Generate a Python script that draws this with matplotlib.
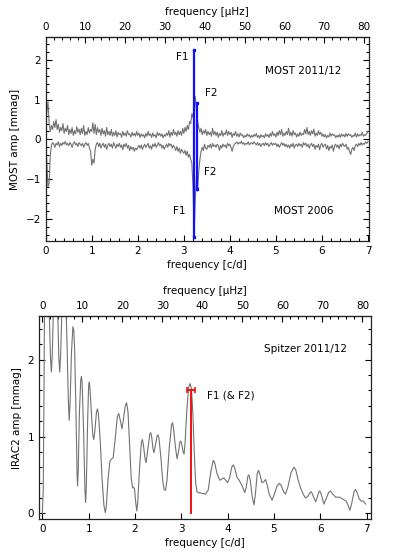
"""
MOST / Spitzer amplitude spectra, two panels with c/d and muHz axes
"""
import numpy as np
import matplotlib
matplotlib.use("Agg")
import matplotlib.pyplot as plt
from matplotlib.ticker import MultipleLocator, FixedLocator

plt.rcParams['font.family'] = ['DejaVu Sans']
plt.rcParams['font.size'] = 7.5

# frequency grid of the MOST spectra [c/d]
most_freq = np.round(np.arange(0, 7.001, 0.025), 3)
# MOST 2011/12 amplitude [mmag], one row per 0.5 c/d
most_2011 = [
    0.30, 0.70, 0.95, 0.40, 0.20, 0.35, 0.25, 0.45, 0.30, 0.50, 0.25, 0.38, 0.18, 0.30, 0.22, 0.40, 0.15, 0.28, 0.20, 0.35,
    0.12, 0.25, 0.15, 0.30, 0.10, 0.22, 0.14, 0.32, 0.18, 0.26, 0.12, 0.28, 0.15, 0.35, 0.10, 0.20, 0.12, 0.30, 0.16, 0.25,
    0.20, 0.42, 0.15, 0.38, 0.12, 0.30, 0.18, 0.25, 0.10, 0.28, 0.14, 0.22, 0.08, 0.30, 0.12, 0.20, 0.10, 0.25, 0.08, 0.18,
    0.10, 0.22, 0.06, 0.18, 0.12, 0.15, 0.05, 0.20, 0.10, 0.16, 0.08, 0.22, 0.12, 0.14, 0.06, 0.18, 0.10, 0.15, 0.08, 0.20,
    0.10, 0.16, 0.05, 0.14, 0.08, 0.12, 0.04, 0.15, 0.08, 0.20, 0.10, 0.14, 0.05, 0.16, 0.08, 0.12, 0.04, 0.18, 0.10, 0.15,
    0.08, 0.14, 0.04, 0.12, 0.08, 0.16, 0.10, 0.22, 0.06, 0.18, 0.10, 0.25, 0.12, 0.18, 0.08, 0.22, 0.12, 0.20, 0.10, 0.28,
    0.15, 0.30, 0.20, 0.35, 0.25, 0.45, 0.40, 0.65, 0.55, 0.85, 1.08, 0.70, 0.45, 0.30, 0.18, 0.28, 0.12, 0.22, 0.15, 0.25,
    0.10, 0.20, 0.12, 0.18, 0.08, 0.28, 0.12, 0.20, 0.10, 0.18, 0.05, 0.15, 0.10, 0.22, 0.08, 0.16, 0.12, 0.24, 0.10, 0.20,
    0.12, 0.18, 0.05, 0.15, 0.10, 0.20, 0.08, 0.14, 0.06, 0.16, 0.10, 0.12, 0.04, 0.10, 0.06, 0.14, 0.08, 0.12, 0.04, 0.10,
    0.06, 0.12, 0.08, 0.15, 0.05, 0.10, 0.03, 0.12, 0.06, 0.10, 0.04, 0.14, 0.08, 0.12, 0.05, 0.15, 0.08, 0.20, 0.10, 0.14,
    0.06, 0.18, 0.10, 0.22, 0.12, 0.25, 0.08, 0.16, 0.10, 0.20, 0.12, 0.28, 0.10, 0.18, 0.08, 0.22, 0.12, 0.16, 0.06, 0.14,
    0.08, 0.18, 0.10, 0.15, 0.12, 0.25, 0.14, 0.30, 0.12, 0.20, 0.10, 0.22, 0.14, 0.26, 0.08, 0.16, 0.10, 0.22, 0.12, 0.18,
    0.08, 0.14, 0.06, 0.12, 0.04, 0.10, 0.06, 0.16, 0.08, 0.14, 0.10, 0.12, 0.04, 0.10, 0.06, 0.12, 0.05, 0.14, 0.08, 0.12,
    0.06, 0.15, 0.08, 0.14, 0.10, 0.12, 0.05, 0.10, 0.08, 0.16, 0.06, 0.14, 0.08, 0.12, 0.10, 0.18, 0.08, 0.12, 0.10, 0.15,
    0.20]
# MOST 2006 amplitude, plotted mirrored [mmag]
most_2006 = [
    0.00, -0.60, -1.20, -1.10, -0.40, -0.15, -0.08, -0.12, -0.20, -0.10, -0.14, -0.06, -0.18, -0.10, -0.15, -0.08, -0.12, -0.05, -0.14, -0.10,
    -0.16, -0.08, -0.12, -0.20, -0.10, -0.06, -0.14, -0.10, -0.18, -0.08, -0.12, -0.16, -0.10, -0.20, -0.12, -0.08, -0.15, -0.10, -0.22, -0.30,
    -0.65, -0.50, -0.60, -0.25, -0.12, -0.08, -0.18, -0.10, -0.22, -0.14, -0.10, -0.20, -0.12, -0.25, -0.15, -0.10, -0.18, -0.12, -0.22, -0.08,
    -0.15, -0.22, -0.12, -0.18, -0.10, -0.20, -0.14, -0.26, -0.12, -0.18, -0.10, -0.22, -0.15, -0.28, -0.18, -0.25, -0.20, -0.30, -0.22, -0.26,
    -0.20, -0.15, -0.22, -0.14, -0.25, -0.18, -0.12, -0.20, -0.15, -0.10, -0.22, -0.16, -0.25, -0.12, -0.18, -0.10, -0.20, -0.14, -0.08, -0.16,
    -0.12, -0.22, -0.15, -0.25, -0.18, -0.12, -0.20, -0.10, -0.16, -0.12, -0.22, -0.15, -0.20, -0.28, -0.18, -0.30, -0.22, -0.35, -0.25, -0.30,
    -0.35, -0.28, -0.40, -0.30, -0.45, -0.38, -0.50, -0.60, -1.20, -2.40, -1.50, -0.90, -1.30, -0.80, -0.50, -0.30, -0.20, -0.28, -0.12, -0.22,
    -0.25, -0.15, -0.20, -0.12, -0.22, -0.10, -0.18, -0.14, -0.20, -0.12, -0.16, -0.28, -0.15, -0.22, -0.12, -0.18, -0.14, -0.22, -0.10, -0.16,
    -0.12, -0.20, -0.30, -0.18, -0.12, -0.10, -0.06, -0.12, -0.08, -0.10, -0.05, -0.12, -0.08, -0.14, -0.10, -0.12, -0.06, -0.14, -0.10, -0.08,
    -0.12, -0.06, -0.10, -0.14, -0.08, -0.15, -0.10, -0.18, -0.12, -0.10, -0.16, -0.08, -0.14, -0.10, -0.18, -0.12, -0.08, -0.15, -0.10, -0.13,
    -0.10, -0.18, -0.12, -0.20, -0.14, -0.08, -0.15, -0.10, -0.18, -0.12, -0.20, -0.14, -0.22, -0.12, -0.18, -0.10, -0.22, -0.14, -0.12, -0.18,
    -0.10, -0.16, -0.12, -0.20, -0.08, -0.14, -0.10, -0.18, -0.12, -0.22, -0.14, -0.10, -0.18, -0.12, -0.25, -0.15, -0.20, -0.12, -0.26, -0.14,
    -0.10, -0.20, -0.14, -0.12, -0.24, -0.15, -0.28, -0.18, -0.22, -0.14, -0.30, -0.16, -0.12, -0.20, -0.14, -0.24, -0.12, -0.18, -0.10, -0.16,
    -0.18, -0.12, -0.25, -0.20, -0.30, -0.38, -0.25, -0.20, -0.28, -0.16, -0.12, -0.18, -0.10, -0.15, -0.08, -0.14, -0.10, -0.12, -0.06, -0.10,
    -0.05]
# fitted frequencies: (freq, amp 2011/12, amp 2006)
f1 = (3.225, 2.26, -2.47)
f2 = (3.28, 0.92, -1.26)

# Spitzer IRAC2 spectrum
spitzer_freq = [0.00, 0.02, 0.035, 0.05, 0.10, 0.15, 0.175, 0.195, 0.215, 0.24,
                0.28, 0.33, 0.355, 0.375, 0.395, 0.43, 0.48, 0.53, 0.56, 0.58,
                0.60, 0.63, 0.66, 0.68, 0.70, 0.73, 0.75, 0.76, 0.775, 0.80,
                0.83, 0.845, 0.86, 0.89, 0.92, 0.935, 0.95, 0.98, 1.00, 1.015,
                1.03, 1.06, 1.09, 1.11, 1.13, 1.17, 1.19, 1.21, 1.25, 1.29,
                1.33, 1.36, 1.38, 1.42, 1.46, 1.50, 1.53, 1.57, 1.62, 1.65,
                1.68, 1.72, 1.75, 1.79, 1.82, 1.85, 1.88, 1.92, 1.95, 1.97,
                1.99, 2.02, 2.04, 2.06, 2.10, 2.14, 2.16, 2.18, 2.22, 2.24,
                2.27, 2.32, 2.34, 2.36, 2.39, 2.41, 2.44, 2.48, 2.50, 2.52,
                2.56, 2.60, 2.63, 2.66, 2.69, 2.74, 2.79, 2.81, 2.83, 2.87,
                2.91, 2.94, 2.97, 2.99, 3.01, 3.04, 3.06, 3.08, 3.12, 3.16,
                3.19, 3.22, 3.25, 3.28, 3.31, 3.34, 3.37, 3.45, 3.52, 3.58,
                3.64, 3.69, 3.72, 3.77, 3.83, 3.88, 3.92, 3.96, 4.00, 4.04,
                4.09, 4.12, 4.15, 4.20, 4.25, 4.32, 4.37, 4.40, 4.44, 4.46,
                4.49, 4.53, 4.57, 4.60, 4.64, 4.67, 4.70, 4.74, 4.78, 4.82,
                4.85, 4.90, 4.96, 5.01, 5.07, 5.12, 5.16, 5.21, 5.25, 5.30,
                5.37, 5.43, 5.47, 5.52, 5.58, 5.64, 5.68, 5.73, 5.78, 5.81,
                5.85, 5.90, 5.93, 5.97, 5.99, 6.02, 6.08, 6.12, 6.18, 6.22,
                6.27, 6.33, 6.42, 6.50, 6.56, 6.61, 6.64, 6.68, 6.73, 6.76,
                6.79, 6.84, 6.88, 6.93, 6.98]
spitzer_amp = [0.00, 0.30, 1.50, 3.00, 3.60, 2.60, 2.05, 1.84, 2.05, 2.70,
               3.40, 2.70, 2.05, 1.84, 2.05, 2.80, 3.30, 2.30, 1.50, 1.21,
               1.45, 2.10, 2.43, 2.38, 2.10, 1.20, 0.50, 0.36, 0.55, 1.30,
               1.74, 1.78, 1.70, 1.10, 0.30, 0.14, 0.35, 1.25, 1.66, 1.71,
               1.62, 1.30, 1.02, 0.96, 1.05, 1.32, 1.36, 1.30, 0.95, 0.45,
               0.10, 0.01, 0.08, 0.45, 0.68, 0.71, 0.73, 0.95, 1.26, 1.30,
               1.22, 1.10, 1.22, 1.40, 1.44, 1.32, 0.95, 0.45, 0.33, 0.34,
               0.32, 0.12, 0.03, 0.15, 0.60, 0.93, 0.96, 0.90, 0.70, 0.66,
               0.80, 1.03, 1.05, 1.00, 0.84, 0.79, 0.88, 1.01, 1.02, 0.97,
               0.72, 0.42, 0.31, 0.30, 0.42, 0.85, 1.15, 1.18, 1.12, 0.88,
               0.71, 0.80, 0.93, 0.94, 0.90, 0.80, 0.77, 0.90, 1.35, 1.64,
               1.69, 1.62, 1.30, 0.80, 0.40, 0.28, 0.27, 0.26, 0.25, 0.30,
               0.55, 0.69, 0.66, 0.52, 0.43, 0.45, 0.46, 0.43, 0.40, 0.46,
               0.60, 0.63, 0.60, 0.47, 0.43, 0.35, 0.27, 0.33, 0.49, 0.50,
               0.43, 0.22, 0.11, 0.25, 0.52, 0.56, 0.50, 0.40, 0.41, 0.44,
               0.38, 0.25, 0.17, 0.25, 0.36, 0.39, 0.36, 0.28, 0.25, 0.34,
               0.53, 0.60, 0.57, 0.44, 0.32, 0.24, 0.20, 0.22, 0.27, 0.28,
               0.22, 0.15, 0.20, 0.28, 0.29, 0.25, 0.12, 0.18, 0.27, 0.29,
               0.25, 0.21, 0.21, 0.18, 0.16, 0.09, 0.04, 0.13, 0.28, 0.31,
               0.28, 0.19, 0.16, 0.16, 0.12]
# F1 in Spitzer data: frequency, amplitude, frequency error
spitzer_f1 = (3.205, 1.605, 0.09)

uhz_major = np.arange(0, 81, 10)
uhz_minor = np.arange(0, 82, 2)

GRAY = '#727272'


def cd_to_uhz(f):
    return f / 0.0864


def uhz_to_cd(f):
    return f * 0.0864


def style_axes(ax, x_minor):
    ax.tick_params(which='both', direction='in', right=True, top=False,
                   width=0.8, labelsize=7.5)
    ax.tick_params(which='major', length=4)
    ax.tick_params(which='minor', length=2)
    ax.xaxis.set_major_locator(MultipleLocator(1))
    if x_minor:
        ax.xaxis.set_minor_locator(MultipleLocator(0.2))
    ax.yaxis.set_major_locator(MultipleLocator(1))
    ax.yaxis.set_minor_locator(MultipleLocator(0.2))
    ax.set_xlabel('frequency [c/d]', labelpad=3)
    for s in ax.spines.values():
        s.set_linewidth(0.9)
        s.set_color('#222222')
    sec = ax.secondary_xaxis('top', functions=(cd_to_uhz, uhz_to_cd))
    sec.xaxis.set_major_locator(FixedLocator(uhz_major))
    sec.xaxis.set_minor_locator(FixedLocator(uhz_minor))
    sec.tick_params(which='both', direction='in', width=0.8, labelsize=7.5)
    sec.tick_params(which='major', length=4)
    sec.tick_params(which='minor', length=2)
    sec.set_xlabel('frequency [\u03bcHz]', labelpad=5)
    return sec


fig = plt.figure(figsize=(3.99, 5.57), dpi=100)

# upper panel: MOST
ax1 = fig.add_axes([0.1145, 0.5673, 0.810, 0.3663])
ax1.plot(most_freq, most_2011, color=GRAY, lw=0.8)
ax1.plot(most_freq, most_2006, color=GRAY, lw=0.8)
for f, a_new, a_old in (f1, f2):
    ax1.plot([f, f], [0, a_new], color='#1010ff', lw=1.6, solid_capstyle='butt')
    ax1.plot([f, f], [0, a_old], color='#1010ff', lw=1.6, solid_capstyle='butt')
    ax1.plot([f, f], [a_new, a_old], 's', color='#1010ff', ms=1.8)
ax1.set_xlim(0, 7.02)
ax1.set_ylim(-2.56, 2.58)
ax1.set_ylabel('MOST amp [mmag]', labelpad=4)
style_axes(ax1, True)
ax1.text(3.1, 2.07, 'F1', ha='right', va='center')
ax1.text(3.46, 1.18, 'F2', ha='left', va='center')
ax1.text(3.43, -0.82, 'F2', ha='left', va='center')
ax1.text(3.03, -1.80, 'F1', ha='right', va='center')
ax1.text(4.76, 1.73, 'MOST 2011/12', ha='left', va='center')
ax1.text(4.97, -1.80, 'MOST 2006', ha='left', va='center')

# lower panel: Spitzer
ax2 = fig.add_axes([0.0977, 0.0677, 0.831, 0.365])
ax2.plot(spitzer_freq, spitzer_amp, color=GRAY, lw=0.8)
fs, amp, err = spitzer_f1
ax2.plot([fs, fs], [0, amp], color='#ee1111', lw=1.4)
ax2.errorbar([fs], [amp], xerr=[err], color='#ee1111', lw=1.4,
             capsize=2.5, capthick=1.2, fmt='none')
ax2.set_xlim(-0.072, 7.086)
ax2.set_ylim(-0.078, 2.57)
ax2.set_ylabel('IRAC2 amp [mmag]', labelpad=4)
style_axes(ax2, False)
ax2.text(3.55, 1.54, 'F1 (& F2)', ha='left', va='center')
ax2.text(4.79, 2.14, 'Spitzer 2011/12', ha='left', va='center')

fig.savefig('out.png', dpi=100)
